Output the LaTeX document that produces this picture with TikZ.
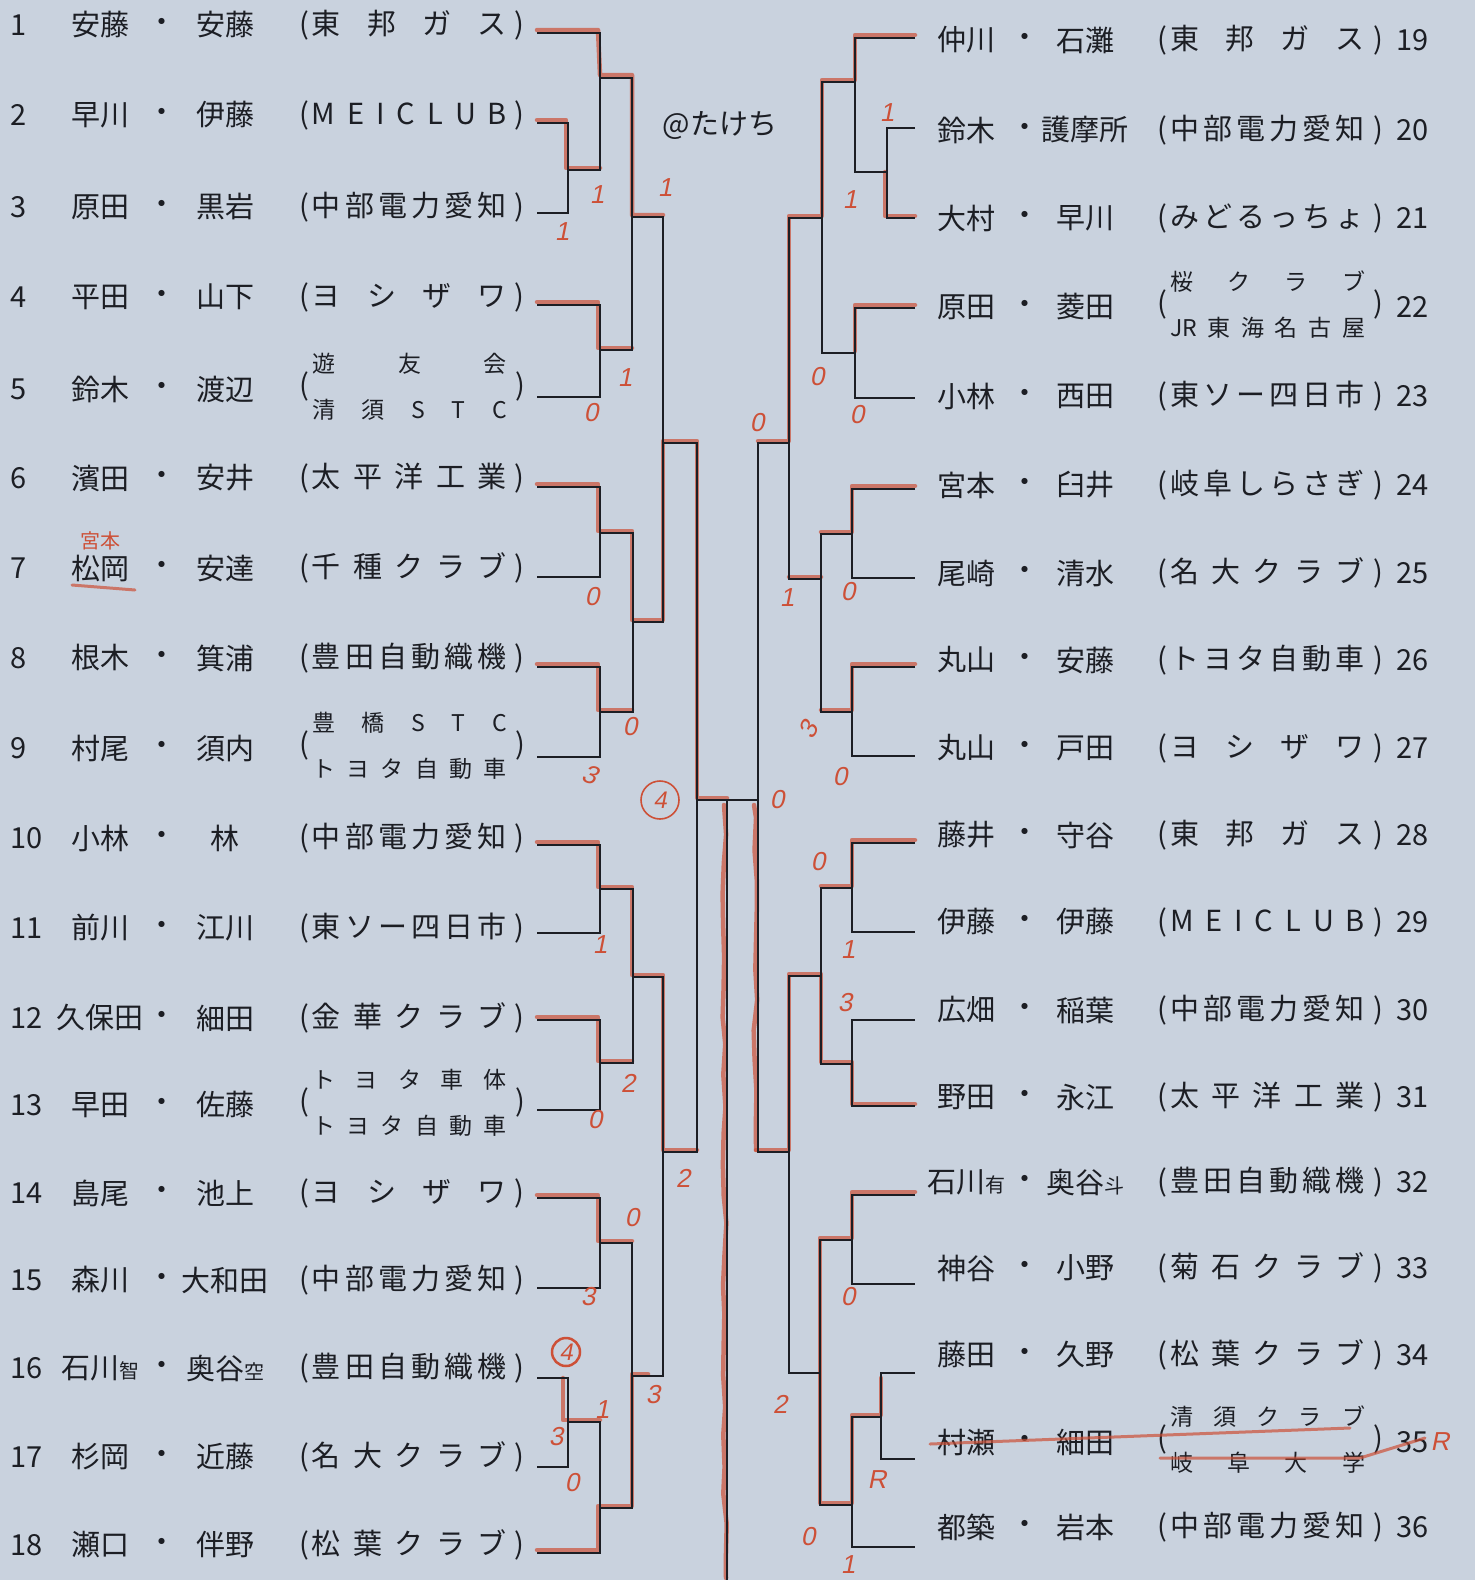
\documentclass[tikz,border=0pt]{standalone}
\usepackage{fontspec}
\setmainfont{Noto Sans CJK JP}
\newfontfamily\hand[FakeSlant=0.2]{Liberation Sans}
\usetikzlibrary{decorations.pathmorphing}
\definecolor{paper}{RGB}{201,210,222}
\definecolor{ink}{RGB}{28,30,36}
\definecolor{penred}{RGB}{205,80,55}
\newcommand\spr[2]{\makebox[#1]{\foreach \ch [count=\kk] in {#2}{\ifnum\kk>1 \hfill\fi\ch}}}
\newcommand\club[1]{(\hspace{3pt}\spr{195pt}{#1}\hspace{8pt})}
\newcommand\clubb[2]{(\hspace{3pt}\begin{tabular}{@{}c@{}}\fontsize{23}{23}\selectfont\spr{195pt}{#1}\\[12pt]\fontsize{23}{23}\selectfont\spr{195pt}{#2}\end{tabular}\hspace{8pt})}
\newcommand\sm[1]{{\fontsize{20}{20}\selectfont#1}}
\tikzset{
  txt/.style={font=\fontsize{29}{34}\selectfont, text=ink, inner sep=0pt},
  br/.style={draw=ink, line width=2.6pt},
  pen/.style={draw=penred, line width=4.5pt, opacity=0.7, line cap=round, line join=round},
  wob/.style={decorate, decoration={random steps, segment length=30pt, amplitude=2.5pt}},
  sc/.style={font=\hand\fontsize{26}{26}\selectfont, text=penred, inner sep=0pt},
  hw/.style={font=\fontsize{20}{20}\selectfont, text=penred, inner sep=0pt},
  ring/.style={circle, draw=penred, line width=1.6pt, inner sep=0pt, text=penred, font=\hand\fontsize{24}{24}\selectfont}
}
\begin{document}
\begin{tikzpicture}[x=1pt,y=-1pt]
\useasboundingbox (0,0) rectangle (1475,1580);
\fill[paper] (0,0) rectangle (1475,1580);
\pgfmathsetseed{4}

% left half
\foreach \i/\ty/\ly/\fa/\fb/\cl in {
  1/25/33/安藤/安藤/{\club{東,邦,ガ,ス}},
  2/115/123/早川/伊藤/{\club{M,E,I,C,L,U,B}},
  3/207/213/原田/黒岩/{\club{中,部,電,力,愛,知}},
  4/297/305/平田/山下/{\club{ヨ,シ,ザ,ワ}},
  5/389/397/鈴木/渡辺/{\clubb{遊,友,会}{清,須,S,T,C}},
  6/478/487/濱田/安井/{\club{太,平,洋,工,業}},
  7/568/577/松岡/安達/{\club{千,種,ク,ラ,ブ}},
  8/658/667/根木/箕浦/{\club{豊,田,自,動,織,機}},
  9/748/757/村尾/須内/{\clubb{豊,橋,S,T,C}{ト,ヨ,タ,自,動,車}},
  10/838/845/小林/林/{\club{中,部,電,力,愛,知}},
  11/928/933/前川/江川/{\club{東,ソ,ー,四,日,市}},
  12/1018/1020/久保田/細田/{\club{金,華,ク,ラ,ブ}},
  13/1105/1110/早田/佐藤/{\clubb{ト,ヨ,タ,車,体}{ト,ヨ,タ,自,動,車}},
  14/1193/1198/島尾/池上/{\club{ヨ,シ,ザ,ワ}},
  15/1280/1288/森川/大和田/{\club{中,部,電,力,愛,知}},
  16/1368/1378/{石川\sm{智}}/{奥谷\sm{空}}/{\club{豊,田,自,動,織,機}},
  17/1457/1467/杉岡/近藤/{\club{名,大,ク,ラ,ブ}},
  18/1545/1553/瀬口/伴野/{\club{松,葉,ク,ラ,ブ}}}{
  \node[txt, anchor=west] (n\i) at (10,\ty) {\i};
  \node[txt] (a\i) at (100,\ty) {\fa};
  \node[txt] (d\i) at (162,\ty) {・};
  \node[txt] (b\i) at (225,\ty) {\fb};
  \node[txt] (t\i) at (412,\ty) {\cl};
  \coordinate (l\i) at (537,\ly);
}

% right half
\foreach \i/\ty/\ly/\fa/\fb/\cl in {
  19/40/38/仲川/石灘/{\club{東,邦,ガ,ス}},
  20/130/128/鈴木/護摩所/{\club{中,部,電,力,愛,知}},
  21/218/218/大村/早川/{\club{み,ど,る,っ,ち,ょ}},
  22/307/308/原田/菱田/{\clubb{桜,ク,ラ,ブ}{JR,東,海,名,古,屋}},
  23/396/398/小林/西田/{\club{東,ソ,ー,四,日,市}},
  24/485/489/宮本/臼井/{\club{岐,阜,し,ら,さ,ぎ}},
  25/573/578/尾崎/清水/{\club{名,大,ク,ラ,ブ}},
  26/660/667/丸山/安藤/{\club{ト,ヨ,タ,自,動,車}},
  27/748/756/丸山/戸田/{\club{ヨ,シ,ザ,ワ}},
  28/835/843/藤井/守谷/{\club{東,邦,ガ,ス}},
  29/922/932/伊藤/伊藤/{\club{M,E,I,C,L,U,B}},
  30/1010/1020/広畑/稲葉/{\club{中,部,電,力,愛,知}},
  31/1097/1106/野田/永江/{\club{太,平,洋,工,業}},
  32/1182/1195/{石川\sm{有}}/{奥谷\sm{斗}}/{\club{豊,田,自,動,織,機}},
  33/1268/1284/神谷/小野/{\club{菊,石,ク,ラ,ブ}},
  34/1355/1373/藤田/久野/{\club{松,葉,ク,ラ,ブ}},
  35/1442/1459/村瀬/細田/{\clubb{清,須,ク,ラ,ブ}{岐,阜,大,学}},
  36/1527/1547/都築/岩本/{\club{中,部,電,力,愛,知}}}{
  \node[txt] (a\i) at (966,\ty) {\fa};
  \node[txt] (d\i) at (1025,\ty) {・};
  \node[txt] (b\i) at (1085,\ty) {\fb};
  \node[txt] (t\i) at (1270,\ty) {\cl};
  \node[txt, anchor=west] (n\i) at (1396,\ty) {\i};
  \coordinate (r\i) at (915,\ly);
}
\node[txt] (tag) at (720,125) {@たけち};

% red pencil
\draw[pen] (537,30) -- (598,30) -- (600,75) -- (632,75) -- (632,215) -- (663,215);
\draw[pen] (537,120) -- (566,120) -- (566,168) -- (600,168);
\draw[pen] (537,302) -- (598,302) -- (598,348) -- (632,348);
\draw[pen] (537,484) -- (598,484) -- (598,531) -- (632,531) -- (632,620) -- (663,620) -- (663,441) -- (697,441) -- (697,798) -- (727,798);
\draw[pen] (537,664) -- (598,664) -- (598,710) -- (632,710);
\draw[pen] (537,842) -- (598,842) -- (598,887) -- (632,887) -- (632,975) -- (663,975) -- (663,1150) -- (697,1150);
\draw[pen] (537,1017) -- (598,1017) -- (598,1061) -- (632,1061);
\draw[pen] (537,1195) -- (598,1195) -- (598,1241) -- (632,1241);
\draw[pen] (563,1378) -- (563,1420) -- (600,1420);
\draw[pen] (537,1550) -- (598,1550) -- (598,1506) -- (632,1506) -- (632,1374) -- (648,1374);
\draw[pen, wob] (724,805) -- (726,1578);
\draw[pen] (915,35) -- (855,35) -- (855,80) -- (822,80) -- (822,216) -- (789,216) -- (789,441) -- (758,441);
\draw[pen] (915,216) -- (885,216) -- (885,172);
\draw[pen] (915,305) -- (855,305) -- (855,351);
\draw[pen] (915,486) -- (852,486) -- (852,532) -- (821,532);
\draw[pen] (821,577) -- (789,577);
\draw[pen] (915,664) -- (852,664) -- (852,710) -- (821,710);
\draw[pen] (915,840) -- (852,840) -- (852,886) -- (821,886);
\draw[pen] (915,1104) -- (852,1104) -- (852,1062) -- (821,1062) -- (821,974) -- (789,974) -- (789,1150) -- (756,1150);
\draw[pen, wob] (756,1150) -- (754,805);
\draw[pen] (915,1192) -- (852,1192) -- (852,1238) -- (820,1238) -- (820,1503) -- (852,1503) -- (852,1415) -- (881,1415) -- (881,1378);

% bracket
\draw[br] (l1) -| (600,170) -- (568,170);
\draw[br] (l2) -| (568,213) -- (l3);
\draw[br] (600,78) -| (632,350) -- (600,350);
\draw[br] (l4) -| (600,397) -- (l5);
\draw[br] (632,217) -| (663,622) -- (633,622);
\draw[br] (l6) -| (600,577) -- (l7);
\draw[br] (600,533) -| (633,712) -- (600,712);
\draw[br] (l8) -| (600,757) -- (l9);
\draw[br] (663,443) -| (697,1152) -- (663,1152);
\draw[br] (l10) -| (600,933) -- (l11);
\draw[br] (600,889) -| (633,1063) -- (600,1063);
\draw[br] (l12) -| (600,1110) -- (l13);
\draw[br] (633,977) -| (663,1376) -- (632,1376);
\draw[br] (l14) -| (600,1288) -- (l15);
\draw[br] (600,1243) -| (632,1508) -- (600,1508);
\draw[br] (l16) -| (568,1467) -- (l17);
\draw[br] (568,1422) -| (600,1553) -- (l18);
\draw[br] (697,800) -- (758,800);
\draw[br] (727,800) -- (727,1580);
\draw[br] (r19) -| (855,172) -- (887,172);
\draw[br] (r20) -| (887,218) -- (r21);
\draw[br] (855,82) -| (822,353) -- (855,353);
\draw[br] (r22) -| (855,398) -- (r23);
\draw[br] (822,218) -| (789,579) -- (821,579);
\draw[br] (r24) -| (852,578) -- (r25);
\draw[br] (852,534) -| (821,712) -- (852,712);
\draw[br] (r26) -| (852,756) -- (r27);
\draw[br] (789,443) -| (758,1152) -- (789,1152);
\draw[br] (r28) -| (852,932) -- (r29);
\draw[br] (852,888) -| (821,1064) -- (852,1064);
\draw[br] (r30) -| (852,1106) -- (r31);
\draw[br] (821,976) -| (789,1373) -- (820,1373);
\draw[br] (r32) -| (852,1284) -- (r33);
\draw[br] (852,1240) -| (820,1505) -- (852,1505);
\draw[br] (r34) -| (881,1459) -- (r35);
\draw[br] (881,1417) -| (852,1547) -- (r36);

% handwritten marks
\node[hw] (fix) at (100,541) {宮本};
\draw[pen, line width=3pt] (72,585) -- (135,590);
\draw[pen, line width=3pt] (930,1444) -- (1350,1428);
\draw[pen, line width=3pt] (1160,1458) -- (1360,1458) -- (1425,1438);
\node[ring, minimum size=38pt] (w1) at (660,800) {4};
\node[ring, minimum size=28pt, line width=2.5pt] (w2) at (566,1352) {4};
\foreach \s/\x/\y/\r [count=\k] in {1/665/188/0, 1/597/195/0, 1/562/232/0, 1/625/378/0,
  0/591/413/0, 0/592/597/0, 0/630/727/0, 3/590/775/-20, 1/600/945/0, 2/628/1083/0,
  0/595/1120/0, 2/683/1178/0, 0/632/1218/0, 3/588/1297/0, 1/602/1410/0, 3/556/1437/0,
  0/572/1483/0, 3/653/1395/0, 1/887/113/0, 1/850/200/0, 0/817/377/0, 0/857/415/0,
  0/757/423/0, 1/787/598/0, 0/848/592/0, 3/808/730/60, 0/840/777/0, 0/777/800/0,
  0/818/862/0, 1/848/950/0, 3/845/1003/0, 0/848/1297/0, 2/780/1404/0, R/877/1480/0,
  0/808/1537/0, 1/848/1565/0, R/1440/1442/0}
  \node[sc, rotate=\r] (s\k) at (\x,\y) {\s};
\end{tikzpicture}
\end{document}
